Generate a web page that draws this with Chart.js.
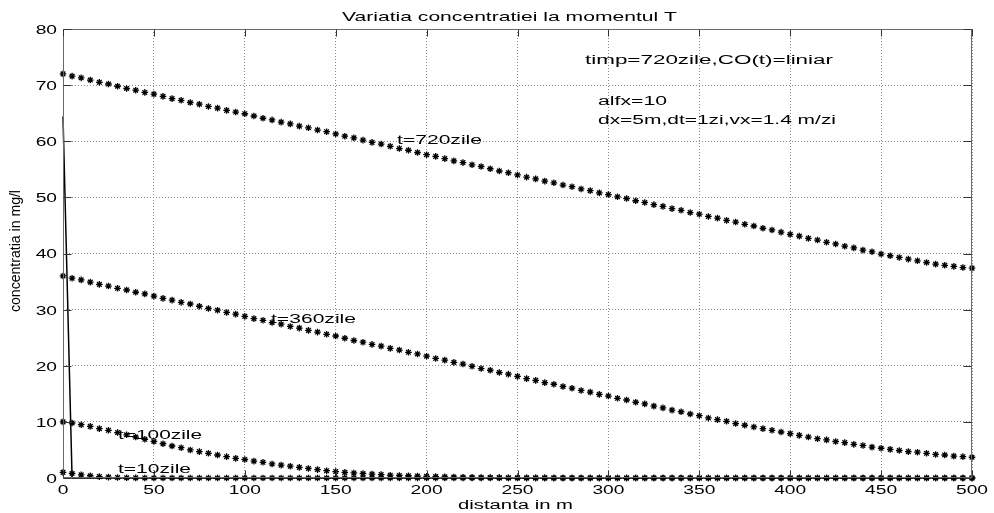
<!DOCTYPE html>
<html>
<head>
<meta charset="utf-8">
<script src="https://cdn.jsdelivr.net/npm/chart.js@4.4.1/dist/chart.umd.min.js"></script>
<style>
  html, body { margin: 0; padding: 0; background: #fff; }
  canvas { display: block; }
</style>
</head>
<body>
<canvas id="c" width="994" height="513"></canvas>
<script>
// distanta in m (dx = 5 m)
const distances = [0,
  5,10,15,20,25,30,35,40,45,50,
  55,60,65,70,75,80,85,90,95,100,
  105,110,115,120,125,130,135,140,145,150,
  155,160,165,170,175,180,185,190,195,200,
  205,210,215,220,225,230,235,240,245,250,
  255,260,265,270,275,280,285,290,295,300,
  305,310,315,320,325,330,335,340,345,350,
  355,360,365,370,375,380,385,390,395,400,
  405,410,415,420,425,430,435,440,445,450,
  455,460,465,470,475,480,485,490,495,500];

// concentratia in mg/l for each moment
const t720 = [72.0,
  71.6,71.3,70.9,70.5,70.2,69.8,69.4,69.1,68.7,68.4,
  68.0,67.6,67.3,66.9,66.6,66.2,65.9,65.5,65.2,64.9,
  64.5,64.1,63.8,63.4,63.1,62.7,62.4,62.0,61.7,61.3,
  60.9,60.6,60.2,59.8,59.5,59.1,58.7,58.4,58.0,57.6,
  57.3,56.9,56.5,56.2,55.8,55.5,55.1,54.7,54.4,54.0,
  53.6,53.3,52.9,52.6,52.2,51.9,51.5,51.2,50.8,50.5,
  50.1,49.8,49.4,49.1,48.7,48.4,48.0,47.7,47.3,47.0,
  46.6,46.3,45.9,45.6,45.2,44.9,44.5,44.2,43.8,43.4,
  43.1,42.7,42.4,42.0,41.7,41.3,41.0,40.6,40.3,39.9,
  39.6,39.3,39.0,38.7,38.4,38.1,37.9,37.7,37.5,37.4];

const t360 = [36.0,
  35.6,35.3,34.9,34.5,34.2,33.8,33.5,33.1,32.8,32.4,
  32.0,31.7,31.3,31.0,30.6,30.2,29.9,29.5,29.2,28.8,
  28.4,28.1,27.7,27.4,27.0,26.7,26.3,26.0,25.6,25.3,
  24.9,24.5,24.2,23.8,23.5,23.1,22.8,22.4,22.1,21.7,
  21.3,21.0,20.6,20.3,19.9,19.5,19.2,18.8,18.5,18.1,
  17.7,17.4,17.0,16.7,16.3,16.0,15.6,15.3,14.9,14.6,
  14.2,13.9,13.5,13.2,12.8,12.5,12.1,11.8,11.4,11.1,
  10.7,10.4,10.1,9.7,9.4,9.1,8.8,8.5,8.2,7.9,
  7.6,7.3,7.0,6.8,6.5,6.3,6.0,5.8,5.5,5.3,
  5.1,4.9,4.7,4.6,4.4,4.2,4.1,3.9,3.8,3.7];

const t100 = [10.0,
  9.8,9.5,9.2,8.8,8.5,8.1,7.7,7.3,6.9,6.5,
  6.1,5.7,5.4,5.0,4.7,4.4,4.1,3.8,3.5,3.3,
  3.0,2.8,2.5,2.3,2.1,1.9,1.7,1.5,1.3,1.15,
  1.0,0.9,0.8,0.7,0.6,0.5,0.45,0.4,0.35,0.3,
  0.25,0.2,0.17,0.14,0.12,0.1,0.08,0.06,0.05,0.04,
  0.03,0.02,0.02,0.01,0.01,0,0,0,0,0,
  0,0,0,0,0,0,0,0,0,0,
  0,0,0,0,0,0,0,0,0,0,
  0,0,0,0,0,0,0,0,0,0,
  0,0,0,0,0,0,0,0,0,0];

const t10 = [1.0,
  0.8,0.55,0.4,0.25,0.15,0.08,0.04,0.02,0.01,0,
  0,0,0,0,0,0,0,0,0,0,
  0,0,0,0,0,0,0,0,0,0,
  0,0,0,0,0,0,0,0,0,0,
  0,0,0,0,0,0,0,0,0,0,
  0,0,0,0,0,0,0,0,0,0,
  0,0,0,0,0,0,0,0,0,0,
  0,0,0,0,0,0,0,0,0,0,
  0,0,0,0,0,0,0,0,0,0,
  0,0,0,0,0,0,0,0,0,0];

// initial pulse (solid line)
const pulseX = [0, 5, 500];
const pulseY = [64.4, 0, 0];

const xTicks = [0,50,100,150,200,250,300,350,400,450,500];
const yTicks = [0,10,20,30,40,50,60,70,80];

const title = "Variatia concentratiei la momentul T";
const xTitle = "distanta in m";
const yTitle = "concentratia in mg/l";
const notes = ["timp=720zile,CO(t)=liniar", "alfx=10", "dx=5m,dt=1zi,vx=1.4 m/zi"];
const curveNames = ["t=720zile", "t=360zile", "t=100zile", "t=10zile"];

// text placement: [left x, baseline y, width, font size]
const titlePos = [342, 20.5, 335, 13.5];
const notePos = [[585, 64, 248, 12], [598, 105, 69, 12], [598, 124, 238, 12]];
const namePos = [[397, 144, 85, 12], [271, 323, 85, 12], [118, 439, 84, 12], [118, 472.5, 73, 12]];
const xTitlePos = [458, 509, 115, 12.5];
const yTitlePos = [19.5, 312, 122, 14];

const FONT = '"Liberation Sans", Arial, sans-serif';

function pts(xs, ys) {
    return xs.map((x, i) => ({ x: x, y: ys[i] }));
}

function stretched(ctx, txt, pos, rotate) {
    const [x, y, w, size] = pos;
    ctx.save();
    ctx.font = size + "px " + FONT;
    const m = ctx.measureText(txt).width;
    ctx.translate(x, y);
    if (rotate) ctx.rotate(-Math.PI / 2);
    ctx.scale(w / m, 1);
    ctx.textAlign = "left";
    ctx.textBaseline = "alphabetic";
    ctx.fillStyle = "#000";
    ctx.fillText(txt, 0, 0);
    ctx.restore();
}

const decor = {
    id: "decor",
    afterDraw(chart) {
        const ctx = chart.ctx;
        const a = chart.chartArea;
        const xs = chart.scales.x, ys = chart.scales.y;
        const L = Math.round(a.left) + 0.5, R = Math.round(a.right) - 0.5;
        const T = Math.round(a.top) + 0.5, B = Math.round(a.bottom) - 0.5;

        ctx.save();
        // axes box
        ctx.strokeStyle = "#6a6a6a";
        ctx.lineWidth = 1;
        ctx.strokeRect(L, T, R - L, B - T);

        // inward tick marks
        ctx.strokeStyle = "#333";
        ctx.beginPath();
        xTicks.forEach(v => {
            const px = Math.round(xs.getPixelForValue(v)) + 0.5;
            ctx.moveTo(px, B); ctx.lineTo(px, B - 7);
            ctx.moveTo(px, T); ctx.lineTo(px, T + 7);
        });
        yTicks.forEach(v => {
            const py = Math.round(ys.getPixelForValue(v)) + 0.5;
            ctx.moveTo(L, py); ctx.lineTo(L + 8, py);
            ctx.moveTo(R, py); ctx.lineTo(R - 8, py);
        });
        ctx.stroke();

        // tick labels
        ctx.fillStyle = "#000";
        ctx.font = "12px " + FONT;
        ctx.textBaseline = "alphabetic";
        xTicks.forEach(v => {
            ctx.save();
            ctx.translate(xs.getPixelForValue(v), 493.5);
            ctx.scale(1.6, 1);
            ctx.textAlign = "center";
            ctx.fillText(String(v), 0, 0);
            ctx.restore();
        });
        yTicks.forEach(v => {
            ctx.save();
            ctx.translate(57, ys.getPixelForValue(v) + 4.9);
            ctx.scale(1.6, 1);
            ctx.textAlign = "right";
            ctx.fillText(String(v), 0, 0);
            ctx.restore();
        });
        ctx.restore();

        stretched(ctx, title, titlePos);
        notes.forEach((n, i) => stretched(ctx, n, notePos[i]));
        curveNames.forEach((n, i) => stretched(ctx, n, namePos[i]));
        stretched(ctx, xTitle, xTitlePos);
        stretched(ctx, yTitle, yTitlePos, true);
    }
};

function markers(ys) {
    return {
        data: pts(distances, ys),
        showLine: false,
        pointStyle: "star",
        pointRadius: 3.3,
        pointBorderWidth: 1.3,
        pointBorderColor: "#000",
        pointBackgroundColor: "#000",
        clip: false
    };
}

new Chart(document.getElementById("c").getContext("2d"), {
    type: "scatter",
    data: {
        datasets: [
            {
                data: pts(pulseX, pulseY),
                showLine: true,
                borderColor: "#000",
                borderWidth: 1.5,
                pointRadius: 0,
                clip: false
            },
            markers(t720),
            markers(t360),
            markers(t100),
            markers(t10)
        ]
    },
    options: {
        responsive: false,
        animation: false,
        events: [],
        layout: { padding: { top: 29, right: 22, left: 0, bottom: 0 } },
        scales: {
            x: {
                type: "linear",
                min: 0,
                max: 500,
                afterBuildTicks: s => { s.ticks = xTicks.map(v => ({ value: v })); },
                afterFit: s => { s.height = 35; },
                ticks: { display: false },
                grid: { color: "#8c8c8c", lineWidth: 1, drawTicks: false },
                border: { display: false, dash: [1, 2] }
            },
            y: {
                type: "linear",
                min: 0,
                max: 80,
                afterBuildTicks: s => { s.ticks = yTicks.map(v => ({ value: v })); },
                afterFit: s => { s.width = 63; },
                ticks: { display: false },
                grid: { color: "#8c8c8c", lineWidth: 1, drawTicks: false },
                border: { display: false, dash: [1, 2] }
            }
        },
        plugins: {
            legend: { display: false },
            tooltip: { enabled: false },
            title: { display: false }
        }
    },
    plugins: [decor]
});
</script>
</body>
</html>
